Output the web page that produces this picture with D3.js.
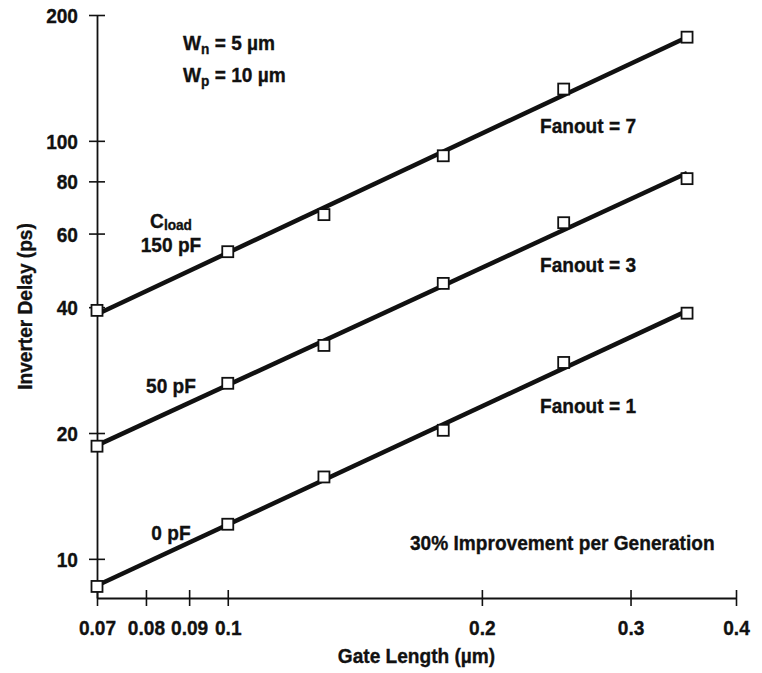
<!DOCTYPE html>
<html>
<head>
<meta charset="utf-8">
<script src="https://cdn.jsdelivr.net/npm/d3@7"></script>
<style>
  body { margin: 0; background: #fff; }
  svg text { font-family: "Liberation Sans", Arial, sans-serif; font-weight: bold; fill: #111; stroke: #111; stroke-width: 0.35px; }
</style>
</head>
<body>
<script>
// gate lengths (um) and inverter delay (ps) for each load
const gateLength = [0.07, 0.1, 0.13, 0.18, 0.25, 0.35];
const delay150pF = [39.3, 54.3, 66.6, 92.1, 133, 177];
const delay50pF = [18.6, 26.3, 32.4, 45.6, 63.7, 81.2];
const delay0pF = [8.59, 12.1, 15.7, 20.3, 29.5, 38.7];

const xTicks = [0.07, 0.08, 0.09, 0.1, 0.2, 0.3, 0.4];
const yTicks = [10, 20, 40, 60, 80, 100, 200];

const series = [
  { load: "150 pF", fanout: "Fanout = 7", values: delay150pF },
  { load: "50 pF", fanout: "Fanout = 3", values: delay50pF },
  { load: "0 pF", fanout: "Fanout = 1", values: delay0pF }
];

const width = 762,
    height = 673,
    fontSize = '21px',
    squeeze = 0.91;   // fake a condensed face

const svg = d3.select('body').append('svg')
    .attr('width', width)
    .attr('height', height);

const x = d3.scaleLog().domain([0.07, 0.4]).range([97, 736]);
const y = d3.scaleLog().domain([8.06, 200]).range([598, 15]);

function label(px, py, str, anchor, rot) {
  return svg.append('text')
      .attr('transform', `translate(${px}, ${py})${rot ? ' rotate(' + rot + ')' : ''} scale(${squeeze}, 1)`)
      .attr('text-anchor', anchor || 'start')
      .style('font-size', fontSize)
      .text(str);
}

/* ------- AXES -------*/

const xAxis = svg.append('g')
    .attr('transform', `translate(0, ${y.range()[0]})`)
    .call(d3.axisBottom(x).tickValues(xTicks).tickFormat(d3.format('')).tickSizeOuter(0));

const yAxis = svg.append('g')
    .attr('transform', `translate(${x.range()[0]}, 0)`)
    .call(d3.axisLeft(y).tickValues(yTicks).tickFormat(d3.format('')).tickSizeOuter(0));

[xAxis, yAxis].forEach(g => {
  g.attr('font-size', null).attr('font-family', null);
  g.select('.domain').attr('stroke', '#111').attr('stroke-width', 1.8);
  g.selectAll('.tick line').attr('stroke', '#111').attr('stroke-width', 1.6);
  g.selectAll('.tick text').style('font-size', fontSize);
});

// ticks cross the axis lines
xAxis.selectAll('.tick line').attr('y1', -8).attr('y2', 8);
xAxis.selectAll('.tick text').attr('y', 0).attr('dy', 0)
    .attr('transform', `translate(0, 37) scale(${squeeze}, 1)`);
yAxis.selectAll('.tick line').attr('x1', -8).attr('x2', 8);
yAxis.selectAll('.tick text').attr('x', 0).attr('dy', '0.36em')
    .attr('transform', `translate(-19, 0) scale(${squeeze}, 1)`);

label((x.range()[0] + x.range()[1]) / 2, 663, 'Gate Length (\u00b5m)', 'middle');
label(32, (y.range()[0] + y.range()[1]) / 2, 'Inverter Delay (ps)', 'middle', -90);

/* ------- FIT LINES AND POINTS -------*/

// least squares fit in log-log space
function fit(values) {
  const lx = gateLength.map(Math.log10), ly = values.map(Math.log10);
  const mx = d3.mean(lx), my = d3.mean(ly);
  const slope = d3.sum(lx, (v, i) => (v - mx) * (ly[i] - my)) / d3.sum(lx, v => (v - mx) ** 2);
  return g => Math.pow(10, my + slope * (Math.log10(g) - mx));
}

const line = d3.line().x(d => x(d[0])).y(d => y(d[1]));
const ends = d3.extent(gateLength);

series.forEach(s => {
  const f = fit(s.values);
  svg.append('path')
      .attr('d', line(ends.map(g => [g, f(g)])))
      .attr('fill', 'none')
      .attr('stroke', '#111')
      .attr('stroke-width', 4.5);

  svg.append('g').selectAll('rect')
    .data(gateLength.map((g, i) => [g, s.values[i]]))
    .enter().append('rect')
      .attr('x', d => x(d[0]) - 5.5)
      .attr('y', d => y(d[1]) - 5.5)
      .attr('width', 11)
      .attr('height', 11)
      .attr('fill', '#fff')
      .attr('stroke', '#111')
      .attr('stroke-width', 1.8);
});

/* ------- LABELS -------*/

// load labels near the left end of each line
const loadY = [252, 393, 540];
series.forEach((s, i) => label(171, loadY[i], s.load, 'middle'));

const cload = label(171, 228, 'C', 'middle');
cload.append('tspan').attr('dy', 2).style('font-size', '15px').text('load');

// fanout labels
const fanoutY = [133, 272, 413];
series.forEach((s, i) => label(540, fanoutY[i], s.fanout));

const widths = [['n', '5'], ['p', '10']];
widths.forEach((w, i) => {
  const t = label(183, 50 + i * 32, 'W');
  t.append('tspan').attr('dy', 4).style('font-size', '15px').text(w[0]);
  t.append('tspan').attr('dy', -4).text(` = ${w[1]} \u00b5m`);
});

label(410, 550, '30% Improvement per Generation');
</script>
</body>
</html>
